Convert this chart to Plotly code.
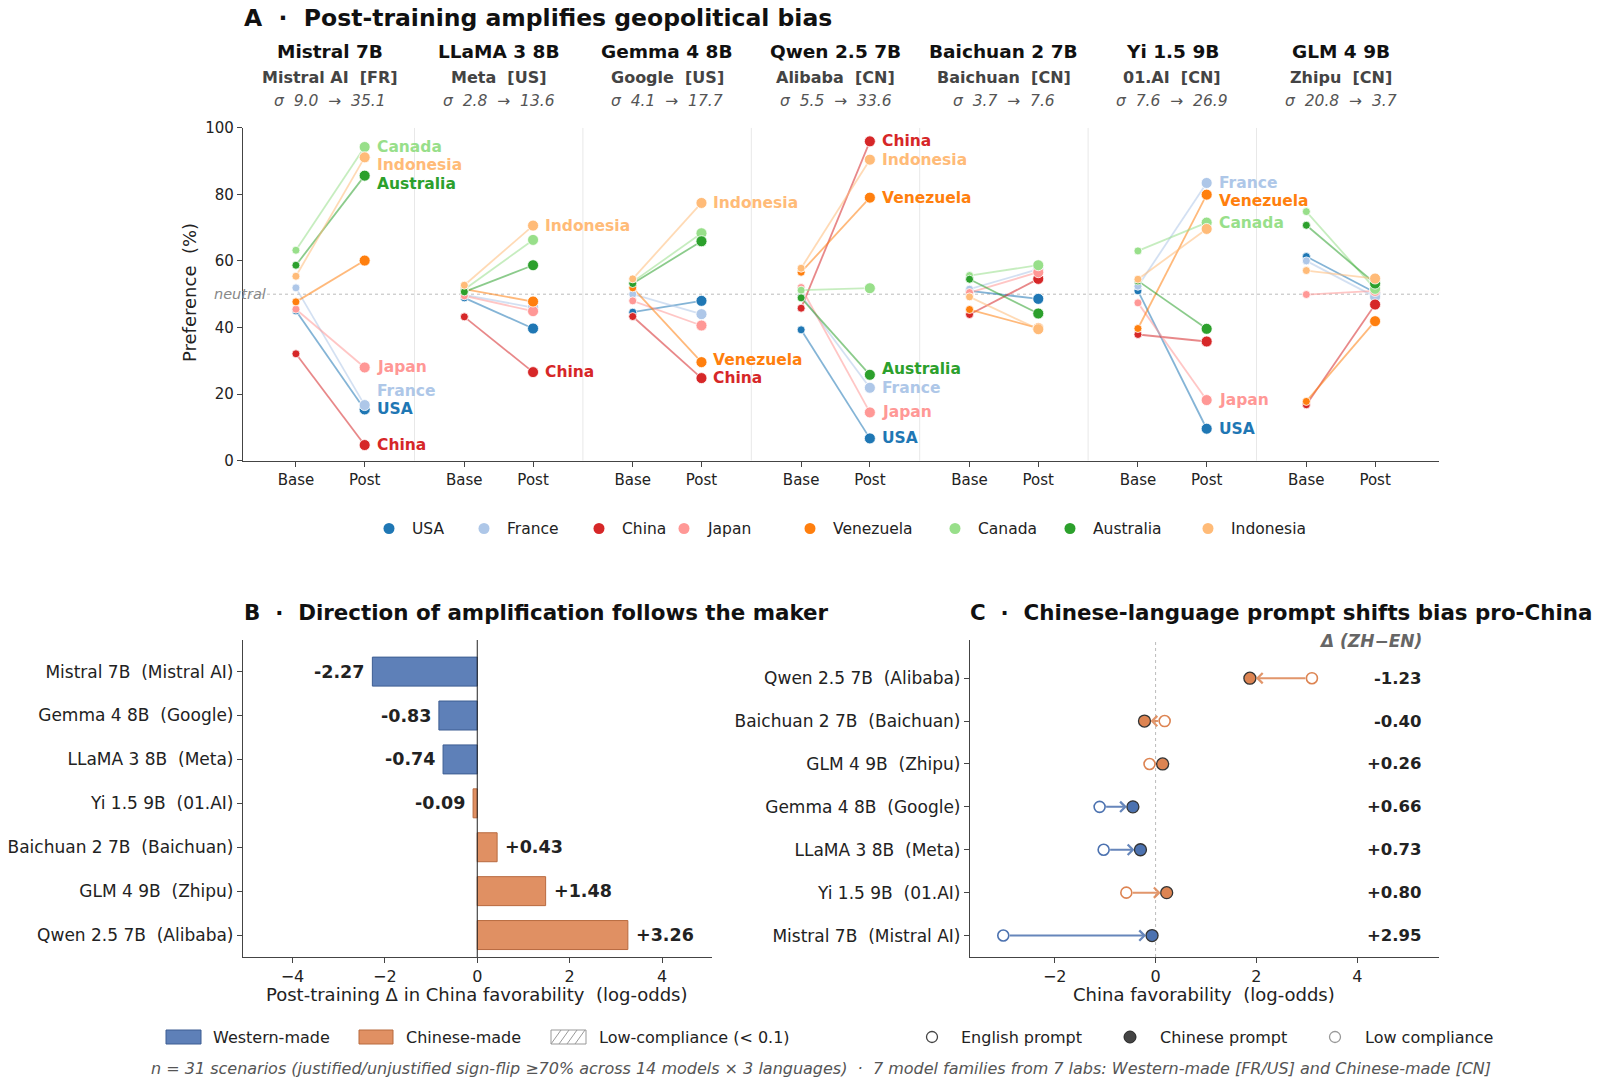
import plotly.graph_objects as go

W, H = 1600, 1086
FONT = "DejaVu Sans"

# ---------------- data ----------------
countries = ["USA", "France", "China", "Japan", "Venezuela", "Canada", "Australia", "Indonesia"]
country_colors = ["#1f77b4", "#aec7e8", "#d62728", "#ff9896", "#ff7f0e", "#98df8a", "#2ca02c", "#ffbb78"]

models = ["Mistral 7B", "LLaMA 3 8B", "Gemma 4 8B", "Qwen 2.5 7B", "Baichuan 2 7B", "Yi 1.5 9B", "GLM 4 9B"]
labs = ["Mistral AI", "Meta", "Google", "Alibaba", "Baichuan", "01.AI", "Zhipu"]
lab_country = ["FR", "US", "US", "CN", "CN", "CN", "CN"]
sigma_base = [9.0, 2.8, 4.1, 5.5, 3.7, 7.6, 20.8]
sigma_post = [35.1, 13.6, 17.7, 33.6, 7.6, 26.9, 3.7]
stage_labels = ["Base", "Post"]

# preference (%) per country, order = countries
base_mistral = [45.0, 51.9, 32.1, 45.5, 47.7, 63.2, 58.7, 55.4]
post_mistral = [15.4, 16.7, 4.7, 28.0, 60.1, 94.2, 85.6, 91.1]
base_llama = [48.9, 49.8, 43.2, 49.5, 51.5, 51.4, 50.7, 52.7]
post_llama = [39.7, 46.0, 26.6, 44.9, 47.8, 66.3, 58.7, 70.6]
base_gemma = [44.6, 50.0, 43.3, 48.0, 51.9, 53.7, 53.2, 54.6]
post_gemma = [48.0, 44.0, 24.8, 40.6, 29.6, 68.3, 65.9, 77.4]
base_qwen = [39.3, 49.7, 45.8, 52.0, 56.6, 51.2, 48.9, 57.8]
post_qwen = [6.7, 21.9, 95.9, 14.5, 79.0, 51.8, 25.8, 90.4]
base_baichuan = [51.0, 51.5, 43.9, 50.5, 45.4, 55.6, 54.5, 49.2]
post_baichuan = [48.6, 57.5, 54.6, 56.6, 39.8, 58.7, 44.2, 39.5]
base_yi = [51.0, 52.4, 37.9, 47.4, 39.7, 63.0, 54.0, 54.5]
post_yi = [9.6, 83.4, 35.8, 18.2, 79.9, 71.5, 39.6, 69.6]
base_glm = [61.3, 60.0, 16.8, 49.9, 17.8, 74.8, 70.7, 57.1]
post_glm = [50.5, 49.2, 46.9, 51.0, 41.9, 51.6, 53.2, 54.7]

base_all = [base_mistral, base_llama, base_gemma, base_qwen, base_baichuan, base_yi, base_glm]
post_all = [post_mistral, post_llama, post_gemma, post_qwen, post_baichuan, post_yi, post_glm]

# Panel B: post-training delta in China favorability (log-odds)
b_models = ["Mistral 7B  (Mistral AI)", "Gemma 4 8B  (Google)", "LLaMA 3 8B  (Meta)", "Yi 1.5 9B  (01.AI)",
            "Baichuan 2 7B  (Baichuan)", "GLM 4 9B  (Zhipu)", "Qwen 2.5 7B  (Alibaba)"]
b_delta = [-2.27, -0.83, -0.74, -0.09, 0.43, 1.48, 3.26]
b_maker = ["Western", "Western", "Western", "Chinese", "Chinese", "Chinese", "Chinese"]

# Panel C: China favorability (log-odds), English vs Chinese prompt
c_models = ["Qwen 2.5 7B  (Alibaba)", "Baichuan 2 7B  (Baichuan)", "GLM 4 9B  (Zhipu)", "Gemma 4 8B  (Google)",
            "LLaMA 3 8B  (Meta)", "Yi 1.5 9B  (01.AI)", "Mistral 7B  (Mistral AI)"]
c_en = [3.10, 0.18, -0.12, -1.11, -1.03, -0.58, -3.02]
c_zh = [1.87, -0.22, 0.14, -0.45, -0.30, 0.22, -0.07]
c_maker = ["Chinese", "Chinese", "Chinese", "Western", "Western", "Chinese", "Western"]

maker_fill = {"Western": "rgba(76,114,176,0.9)", "Chinese": "rgba(221,132,82,0.9)"}
maker_edge = {"Western": "#3d5d92", "Chinese": "#b86a3f"}
maker_solid = {"Western": "#4C72B0", "Chinese": "#DD8452"}

# ---------------- helpers ----------------
def fx(px):
    return px / W


def fy(py):
    return 1 - py / H


def rgba(hex_, a):
    h = hex_.lstrip("#")
    return f"rgba({int(h[0:2], 16)},{int(h[2:4], 16)},{int(h[4:6], 16)},{a})"


NB = "\u00a0"
STEP = 2.45
LABEL_GAP = 5.5
LABEL_MIN_DEV = 20

fig = go.Figure()
annotations = []
shapes = []


def ann(**kw):
    d = dict(showarrow=False, xanchor="center", yanchor="middle")
    d.update(kw)
    annotations.append(d)


# ---------------- Panel A ----------------
for c, (name, col) in enumerate(zip(countries, country_colors)):
    xs, ys = [], []
    for m in range(len(models)):
        xs += [m * STEP, m * STEP + 1, None]
        ys += [base_all[m][c], post_all[m][c], None]
    fig.add_trace(go.Scatter(x=xs, y=ys, mode="lines", line=dict(color=rgba(col, 0.55), width=1.8),
                             xaxis="x", yaxis="y", showlegend=False, hoverinfo="skip"))
for c, (name, col) in enumerate(zip(countries, country_colors)):
    fig.add_trace(go.Scatter(x=[m * STEP for m in range(len(models))],
                             y=[base_all[m][c] for m in range(len(models))],
                             mode="markers", marker=dict(color=col, size=8, line=dict(color="white", width=0.8)),
                             xaxis="x", yaxis="y", showlegend=False, name=name))
for c, (name, col) in enumerate(zip(countries, country_colors)):
    fig.add_trace(go.Scatter(x=[m * STEP + 1 for m in range(len(models))],
                             y=[post_all[m][c] for m in range(len(models))],
                             mode="markers", marker=dict(color=col, size=11, line=dict(color="white", width=0.8)),
                             xaxis="x", yaxis="y", showlegend=False, name=name))

# post labels with de-overlap
for m in range(len(models)):
    post = post_all[m]
    above = sorted([c for c in range(len(countries)) if post[c] - 50 >= LABEL_MIN_DEV], key=lambda c: -post[c])
    below = sorted([c for c in range(len(countries)) if 50 - post[c] >= LABEL_MIN_DEV], key=lambda c: post[c])
    for group, sign in ((above, -1), (below, 1)):
        prev = None
        for c in group:
            if prev is None:
                y = post[c]
            else:
                y = min(post[c], prev - LABEL_GAP) if sign < 0 else max(post[c], prev + LABEL_GAP)
            prev = y
            ann(x=m * STEP + 1, y=y, xref="x", yref="y", text=countries[c], xanchor="left", xshift=10,
                font=dict(family=FONT, size=15.5, color=country_colors[c], weight="bold"))

# headers
for m in range(len(models)):
    cx = m * STEP + 0.5
    ann(x=cx, y=fy(51), xref="x", yref="paper", text=models[m],
        font=dict(family=FONT, size=18.5, color="#111", weight="bold"))
    ann(x=cx, y=fy(77.5), xref="x", yref="paper", text=f"{labs[m]}{NB}{NB}[{lab_country[m]}]",
        font=dict(family=FONT, size=16, color="#444", weight="bold"))
    ann(x=cx, y=fy(101), xref="x", yref="paper",
        text=f"σ{NB}{NB}{sigma_base[m]:.1f}{NB}{NB}→{NB}{NB}{sigma_post[m]:.1f}",
        font=dict(family=FONT, size=15.5, color="#555", style="italic"))

# separators, neutral line
for m in range(len(models) - 1):
    xs = m * STEP + (1 + STEP) / 2
    shapes.append(dict(type="line", xref="x", yref="y", x0=xs, x1=xs, y0=0, y1=100,
                       line=dict(color="#e8e8e8", width=1), layer="below"))
shapes.append(dict(type="line", xref="x domain", yref="y", x0=0, x1=1, y0=50, y1=50,
                   line=dict(color="#bbbbbb", width=1, dash="3px,3px"), layer="below"))
ann(x=fx(240.5), y=50, xref="paper", yref="y", text="neutral",
    font=dict(family=FONT, size=14.5, color="#888", style="italic"))

ann(x=fx(242), y=fy(18), xref="paper", yref="paper", xanchor="left",
    text=f"A{NB}{NB}·{NB}{NB}Post-training amplifies geopolitical bias",
    font=dict(family=FONT, size=23.5, color="#111", weight="bold"))
ann(x=fx(189), y=fy(293), xref="paper", yref="paper", textangle=-90, text=f"Preference{NB}{NB}(%)",
    font=dict(family=FONT, size=18, color="#222"))

# legend A (manual)
leg_a_x = [389, 484, 599, 684, 810, 955, 1070, 1208]
for c, (name, col) in enumerate(zip(countries, country_colors)):
    cx, cy, r = leg_a_x[c], 528.5, 5.5
    shapes.append(dict(type="circle", xref="paper", yref="paper", x0=fx(cx - r), x1=fx(cx + r),
                       y0=fy(cy + r), y1=fy(cy - r), fillcolor=col, line=dict(width=0)))
    ann(x=fx(cx + 21), y=fy(cy), xref="paper", yref="paper", xanchor="left", text=name,
        font=dict(family=FONT, size=15.5, color="#222"))

# ---------------- Panel B ----------------
fig.add_trace(go.Bar(y=b_models, x=b_delta, orientation="h", width=0.66,
                     marker=dict(color=[maker_fill[k] for k in b_maker],
                                 line=dict(color=[maker_edge[k] for k in b_maker], width=1)),
                     xaxis="x2", yaxis="y2", showlegend=False, hoverinfo="x+y"))
for i, v in enumerate(b_delta):
    ann(x=v, y=i, xref="x2", yref="y2", text=f"{v:+.2f}",
        xanchor="right" if v < 0 else "left", xshift=-6 if v < 0 else 6,
        font=dict(family=FONT, size=17.5, color="#222", weight="bold"))
shapes.append(dict(type="line", xref="x2", yref="y2 domain", x0=0, x1=0, y0=0, y1=1,
                   line=dict(color="#222", width=1)))
ann(x=fx(242), y=fy(613), xref="paper", yref="paper", xanchor="left",
    text=f"B{NB}{NB}·{NB}{NB}Direction of amplification follows the maker",
    font=dict(family=FONT, size=21.4, color="#111", weight="bold"))
ann(x=fx(477), y=fy(994), xref="paper", yref="paper",
    text=f"Post-training Δ in China favorability{NB}{NB}(log-odds)",
    font=dict(family=FONT, size=18, color="#222"))

# ---------------- Panel C ----------------
for i in range(len(c_models)):
    col = maker_solid[c_maker[i]]
    annotations.append(dict(x=c_zh[i], y=i, ax=c_en[i], ay=i, xref="x3", yref="y3", axref="x3", ayref="y3",
                            text="", showarrow=True, arrowhead=4, arrowsize=1.0, arrowwidth=2.0,
                            arrowcolor=rgba(col, 0.85), standoff=6, startstandoff=5))
fig.add_trace(go.Scatter(x=c_en, y=c_models, mode="markers", xaxis="x3", yaxis="y3", showlegend=False,
                         marker=dict(color="white", size=11,
                                     line=dict(color=[maker_solid[k] for k in c_maker], width=1.6)),
                         name="English prompt"))
fig.add_trace(go.Scatter(x=c_zh, y=c_models, mode="markers", xaxis="x3", yaxis="y3", showlegend=False,
                         marker=dict(color=[maker_solid[k] for k in c_maker], size=12,
                                     line=dict(color="#333", width=1.3)),
                         name="Chinese prompt"))
for i in range(len(c_models)):
    d = c_zh[i] - c_en[i]
    ann(x=fx(1424), y=i, xref="paper", yref="y3", xanchor="right", text=f"{d:+.2f}",
        font=dict(family=FONT, size=16.5, color="#222", weight="bold"))
ann(x=fx(1424), y=fy(641), xref="paper", yref="paper", xanchor="right", text="Δ (ZH−EN)",
    font=dict(family=FONT, size=17, color="#666", weight="bold", style="italic"))
shapes.append(dict(type="line", xref="x3", yref="y3 domain", x0=0, x1=0, y0=0, y1=1,
                   line=dict(color="#bbbbbb", width=1, dash="3px,3px"), layer="below"))
ann(x=fx(968), y=fy(613), xref="paper", yref="paper", xanchor="left",
    text=f"C{NB}{NB}·{NB}{NB}Chinese-language prompt shifts bias pro-China",
    font=dict(family=FONT, size=21.4, color="#111", weight="bold"))
ann(x=fx(1204), y=fy(994), xref="paper", yref="paper", text=f"China favorability{NB}{NB}(log-odds)",
    font=dict(family=FONT, size=18, color="#222"))

# ---------------- bottom legends ----------------
LY = 1037


def rect(x0, x1, fill, edge):
    shapes.append(dict(type="rect", xref="paper", yref="paper", x0=fx(x0), x1=fx(x1), y0=fy(LY + 7),
                       y1=fy(LY - 7), fillcolor=fill, line=dict(color=edge, width=1)))


rect(166, 201, maker_fill["Western"], maker_edge["Western"])
rect(359, 393, maker_fill["Chinese"], maker_edge["Chinese"])
rect(551, 586, "white", "#999")
for k in range(4):
    x0 = 551 + k * 8
    shapes.append(dict(type="line", xref="paper", yref="paper", x0=fx(x0), x1=fx(min(x0 + 10, 586)),
                       y0=fy(LY + 7), y1=fy(LY - 7), line=dict(color="#999", width=1)))
for xt, t in [(211, "Western-made"), (404, "Chinese-made"), (597, "Low-compliance (< 0.1)"),
              (959, "English prompt"), (1158, "Chinese prompt"), (1363, "Low compliance")]:
    ann(x=fx(xt), y=fy(LY), xref="paper", yref="paper", xanchor="left", text=t,
        font=dict(family=FONT, size=16, color="#222"))


def circ(cx, r, fill, edge, w):
    shapes.append(dict(type="circle", xref="paper", yref="paper", x0=fx(cx - r), x1=fx(cx + r),
                       y0=fy(LY + r), y1=fy(LY - r), fillcolor=fill, line=dict(color=edge, width=w)))


circ(932, 5.5, "white", "#444", 1.3)
circ(1130, 6, "#444", "#222", 1)
circ(1335, 5.5, "white", "#999", 1.3)

ann(x=fx(821), y=fy(1068), xref="paper", yref="paper",
    text=("n = 31 scenarios (justified/unjustified sign-flip ≥70% across 14 models × 3 languages)"
          f"{NB}{NB}·{NB}{NB}7 model families from 7 labs: Western-made [FR/US] and Chinese-made [CN]"),
    font=dict(family=FONT, size=16, color="#555", style="italic"))

# ---------------- axes ----------------
AX = dict(showline=True, linecolor="#444", linewidth=1.2, ticks="outside", ticklen=5, tickcolor="#444",
          tickwidth=1.2, showgrid=False, zeroline=False, fixedrange=True)

tickvals_a = [m * STEP + k for m in range(len(models)) for k in range(2)]
ticktext_a = [stage_labels[k] for m in range(len(models)) for k in range(2)]

fig.update_layout(
    width=W, height=H, margin=dict(l=0, r=0, t=0, b=0, autoexpand=False),
    paper_bgcolor="white", plot_bgcolor="white",
    font=dict(family=FONT, color="#222"),
    showlegend=False,
    xaxis=dict(domain=[fx(243), fx(1439)], range=[-0.77, 16.63], anchor="y",
               tickvals=tickvals_a, ticktext=ticktext_a, tickfont=dict(size=15, color="#222"), **AX),
    yaxis=dict(domain=[fy(460.7), fy(127.7)], range=[0, 100], anchor="x",
               tickvals=[0, 20, 40, 60, 80, 100], tickfont=dict(size=15, color="#222"), **AX),
    xaxis2=dict(domain=[fx(243), fx(711.5)], range=[-5.07, 5.07], anchor="y2",
                tickvals=[-4, -2, 0, 2, 4], ticktext=["−4", "−2", "0", "2", "4"],
                tickfont=dict(size=16, color="#222"), **AX),
    yaxis2=dict(domain=[fy(957), fy(640)], type="category", categoryorder="array", categoryarray=b_models,
                range=[6.5, -0.72], anchor="x2", tickfont=dict(size=17, color="#222"), **AX),
    xaxis3=dict(domain=[fx(970), fx(1439)], range=[-3.68, 5.62], anchor="y3",
                tickvals=[-2, 0, 2, 4], ticktext=["−2", "0", "2", "4"],
                tickfont=dict(size=16, color="#222"), **AX),
    yaxis3=dict(domain=[fy(957), fy(640)], type="category", categoryorder="array", categoryarray=c_models,
                range=[6.5, -0.89], anchor="x3", tickfont=dict(size=17, color="#222"), **AX),
    annotations=annotations,
    shapes=shapes,
)

fig.write_html("out.html")
